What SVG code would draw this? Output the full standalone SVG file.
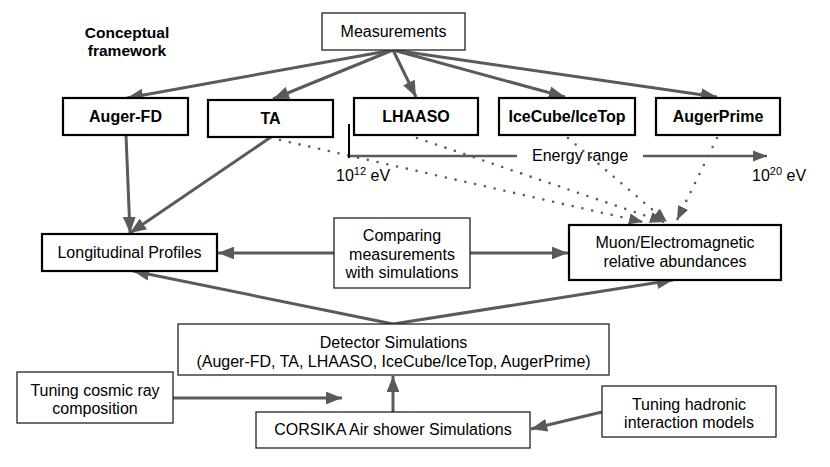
<svg xmlns="http://www.w3.org/2000/svg" width="830" height="467" viewBox="0 0 830 467">
<style>
text{font-family:"Liberation Sans",Arial,sans-serif;font-size:16px;fill:#000;text-anchor:middle}
.b{font-weight:bold}
.thin{fill:#fff;stroke:#222;stroke-width:1.3}
.thick{fill:#fff;stroke:#000;stroke-width:2.2}
.ar{fill:none;stroke:#5a5a5a;stroke-width:3;marker-end:url(#ah)}
.dot{fill:none;stroke:#5a5a5a;stroke-width:2.6;stroke-linecap:round;stroke-dasharray:0 10;marker-end:url(#ah)}
</style>
<defs>
<marker id="ah" viewBox="0 0 10 10" refX="10" refY="5" markerWidth="5.4" markerHeight="4.3" markerUnits="strokeWidth" orient="auto" preserveAspectRatio="none">
<path d="M0,0 L10,5 L0,10 z" fill="#5a5a5a"/>
</marker>
</defs>
<rect width="830" height="467" fill="#fff"/>
<g id="title"><text class="b" x="127" y="38" style="font-size:15.5px">Conceptual</text><text class="b" x="127" y="56" style="font-size:15.5px">framework</text></g>
<g id="connectors">
<line class="ar" x1="393" y1="50" x2="127" y2="98"/>
<line class="ar" x1="393" y1="50" x2="273" y2="99"/>
<line class="ar" x1="393" y1="50" x2="416" y2="97"/>
<line class="ar" x1="393" y1="50" x2="565" y2="97"/>
<line class="ar" x1="393" y1="50" x2="717" y2="97"/>
<line class="ar" x1="126" y1="135" x2="130" y2="233"/>
<line class="ar" x1="271" y1="137" x2="130" y2="233"/>
<line class="ar" x1="334" y1="253" x2="218" y2="253"/>
<line class="ar" x1="470" y1="253" x2="568" y2="253"/>
<line class="ar" x1="393" y1="324" x2="133" y2="271"/>
<line class="ar" x1="393" y1="324" x2="673" y2="280"/>
<line class="ar" x1="173" y1="398" x2="342" y2="398"/>
<line class="ar" x1="393" y1="412" x2="393" y2="376"/>
<line class="ar" x1="602" y1="412" x2="531" y2="429"/>
<line class="dot" x1="280" y1="140" x2="643" y2="222"/>
<line class="dot" x1="417" y1="138" x2="664" y2="222"/>
<line class="dot" x1="568" y1="138" x2="667" y2="222"/>
<line class="dot" x1="717" y1="138" x2="677" y2="220"/>
</g>
<g id="energy-range">
<line x1="349" y1="156" x2="517" y2="156" stroke="#5a5a5a" stroke-width="2.6"/>
<line class="ar" x1="643" y1="156" x2="767" y2="156" style="stroke-width:2.6"/>
<line x1="349" y1="124" x2="349" y2="158" stroke="#000" stroke-width="2"/>
<text x="580" y="161">Energy range</text>
<text x="336" y="181" style="text-anchor:start">10<tspan dy="-6" style="font-size:11px">12</tspan><tspan dy="6"> eV</tspan></text>
<text x="752" y="181" style="text-anchor:start">10<tspan dy="-6" style="font-size:11px">20</tspan><tspan dy="6"> eV</tspan></text>
</g>
<g id="measurements"><rect class="thin" x="322" y="13" width="143" height="37"/><text x="393.5" y="37">Measurements</text></g>
<g id="auger-fd"><rect class="thick" x="63" y="98" width="125" height="37"/><text class="b" x="125.5" y="122">Auger-FD</text></g>
<g id="ta"><rect class="thick" x="208" y="100" width="125" height="37"/><text class="b" x="270.5" y="124">TA</text></g>
<g id="lhaaso"><rect class="thick" x="354" y="98" width="124" height="37"/><text class="b" x="416" y="122">LHAASO</text></g>
<g id="icecube"><rect class="thick" x="499" y="98" width="136" height="37"/><text class="b" x="567" y="122">IceCube/IceTop</text></g>
<g id="augerprime"><rect class="thick" x="656" y="98" width="124" height="37"/><text class="b" x="718" y="122">AugerPrime</text></g>
<g id="longitudinal"><rect class="thick" x="42" y="234" width="175" height="37"/><text x="129.5" y="258">Longitudinal Profiles</text></g>
<g id="comparing"><rect class="thin" x="334" y="218" width="136" height="70"/><text x="402" y="241">Comparing</text><text x="402" y="259.5">measurements</text><text x="402" y="278">with simulations</text></g>
<g id="muon"><rect class="thick" x="569" y="225" width="212" height="55"/><text x="675" y="248">Muon/Electromagnetic</text><text x="675" y="267">relative abundances</text></g>
<g id="detector"><rect class="thin" x="178" y="324" width="431" height="51"/><text x="393.5" y="348">Detector Simulations</text><text x="393.5" y="367">(Auger-FD, TA, LHAASO, IceCube/IceTop, AugerPrime)</text></g>
<g id="tuning-cosmic"><rect class="thin" x="17" y="372" width="156" height="51"/><text x="95" y="396">Tuning cosmic ray</text><text x="95" y="414">composition</text></g>
<g id="corsika"><rect class="thin" x="256" y="412" width="274" height="36"/><text x="393" y="435">CORSIKA Air shower Simulations</text></g>
<g id="tuning-hadronic"><rect class="thin" x="602" y="386" width="174" height="51"/><text x="689" y="410">Tuning hadronic</text><text x="689" y="428">interaction models</text></g>
</svg>
